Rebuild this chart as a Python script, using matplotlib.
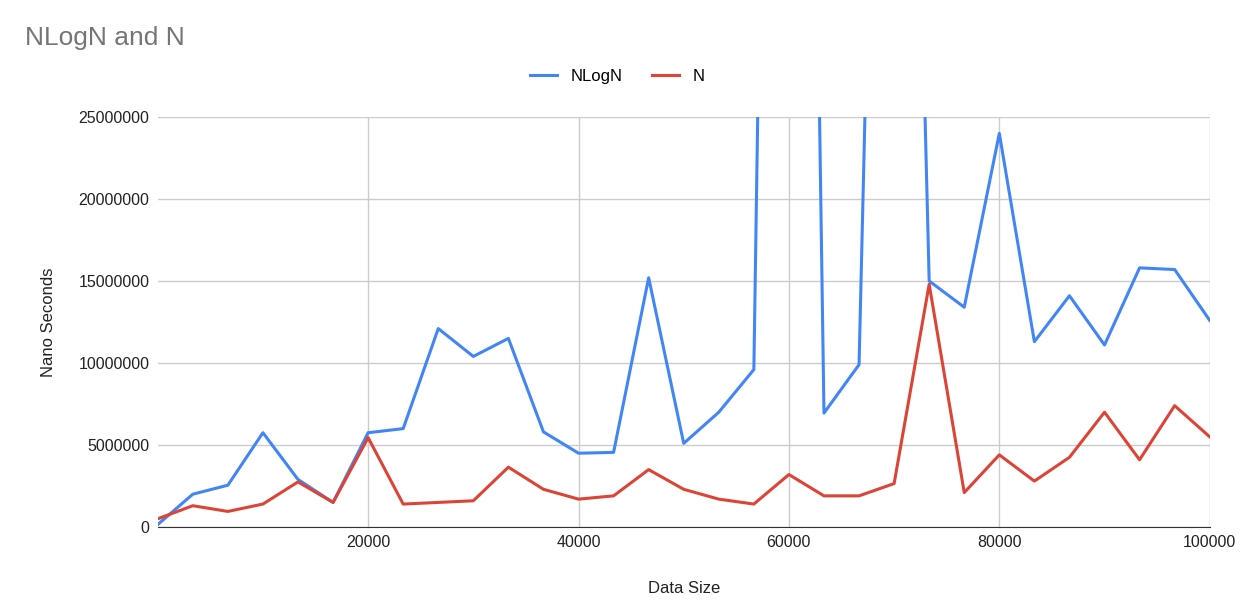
import matplotlib.pyplot as plt
from matplotlib.ticker import FixedLocator

plt.rcParams["font.family"] = ["Liberation Sans", "DejaVu Sans"]

data_size = [0, 3333, 6667, 10000, 13333, 16667, 20000, 23333, 26667, 30000,
             33333, 36667, 40000, 43333, 46667, 50000, 53333, 56667, 60000, 63333,
             66667, 70000, 73333, 76667, 80000, 83333, 86667, 90000, 93333, 96667, 100000]
nlogn = [0.15e6, 2.0e6, 2.55e6, 5.75e6, 2.9e6, 1.5e6, 5.75e6, 6.0e6, 12.1e6, 10.4e6,
         11.5e6, 5.8e6, 4.5e6, 4.55e6, 15.2e6, 5.1e6, 7.0e6, 9.6e6, 150e6, 6.95e6,
         9.9e6, 100e6, 15.0e6, 13.4e6, 24.0e6, 11.3e6, 14.1e6, 11.1e6, 15.8e6, 15.7e6, 12.6e6]
n_vals = [0.5e6, 1.3e6, 0.95e6, 1.4e6, 2.75e6, 1.5e6, 5.45e6, 1.4e6, 1.5e6, 1.6e6,
          3.65e6, 2.3e6, 1.7e6, 1.9e6, 3.5e6, 2.3e6, 1.7e6, 1.4e6, 3.2e6, 1.9e6,
          1.9e6, 2.65e6, 14.8e6, 2.1e6, 4.4e6, 2.8e6, 4.25e6, 7.0e6, 4.1e6, 7.4e6, 5.5e6]

fig = plt.figure(figsize=(12.42, 6.03), dpi=100)
ax = fig.add_axes([0.127, 0.126, 0.847, 0.68])

ax.plot(data_size, nlogn, color="#4285f4", lw=2.2, label="NLogN")
ax.plot(data_size, n_vals, color="#db4437", lw=2.2, label="N")

ax.set_xlim(0, 100000)
ax.set_ylim(0, 25000000)
ax.xaxis.set_major_locator(FixedLocator([20000, 40000, 60000, 80000, 100000]))
ax.yaxis.set_major_locator(FixedLocator([0, 5e6, 10e6, 15e6, 20e6, 25e6]))
ax.yaxis.set_major_formatter(plt.FuncFormatter(lambda v, _: f"{int(v)}"))
ax.grid(True, color="#cccccc", lw=1)
ax.set_axisbelow(True)
for s in ["top", "right", "left"]:
    ax.spines[s].set_visible(False)
ax.spines["bottom"].set_color("#333333")
ax.tick_params(length=0, labelsize=11.5, colors="#222222", pad=6)
ax.set_xlabel("Data Size", fontsize=12, labelpad=22, color="#222222")
ax.set_ylabel("Nano Seconds", fontsize=12, labelpad=16, color="#222222")

fig.text(0.02, 0.925, "NLogN and N", fontsize=19, color="#757575")
fig.legend(loc="center", bbox_to_anchor=(0.497, 0.873), ncol=2, frameon=False,
           fontsize=12, handlelength=1.6, columnspacing=1.8)

plt.savefig("out.png")
